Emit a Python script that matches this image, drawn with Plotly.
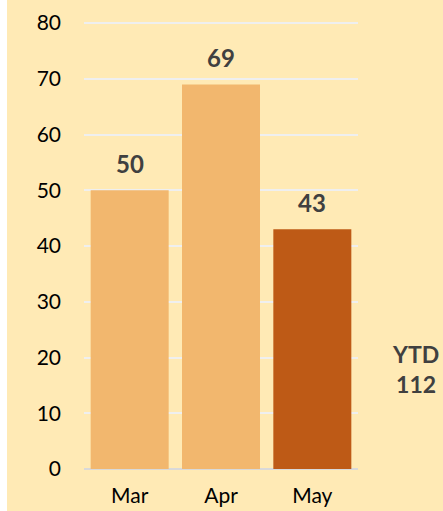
import plotly.graph_objects as go

months = ["Mar", "Apr", "May"]
values = [50, 69, 43]
bar_colors = ["#F2B76E", "#F2B76E", "#BE5A16"]
ytd_label = "YTD"
ytd_value = 112
y_ticks = [0, 10, 20, 30, 40, 50, 60, 70, 80]

W, H = 443, 511
ML, MR, MT, MB = 84, 85, 22, 42
BG = "#FFEAB5"
TXT = "#404040"
FONT = "Lato, Open Sans, sans-serif"

fig = go.Figure()
fig.add_trace(go.Bar(
    x=months, y=values,
    marker=dict(color=bar_colors, line=dict(width=0)),
    hoverinfo="skip",
))

for m, v in zip(months, values):
    fig.add_annotation(
        x=m, y=v, xref="x", yref="y", text=f"<b>{v}</b>",
        showarrow=False, yanchor="middle", yshift=27,
        font=dict(family=FONT, size=24, color=TXT),
    )

pw = W - ML - MR
ph = H - MT - MB
fig.add_annotation(
    x=(415 - ML) / pw, y=(H - MB - 369) / ph, xref="paper", yref="paper",
    text=f"<b>{ytd_label}</b><br><b>{ytd_value}</b>",
    showarrow=False, xanchor="center", yanchor="middle",
    font=dict(family=FONT, size=23, color=TXT),
)

# white strip on left edge
fig.add_shape(
    type="rect", xref="paper", yref="paper",
    x0=-ML / pw, x1=(7 - ML) / pw, y0=-MB / ph - 0.01, y1=(H - MB) / ph + 0.01,
    fillcolor="white", line=dict(width=0), layer="below",
)

fig.update_layout(
    width=W, height=H,
    margin=dict(l=ML, r=MR, t=MT, b=MB, pad=0),
    paper_bgcolor=BG, plot_bgcolor=BG,
    bargap=0.146,
    showlegend=False,
    font=dict(family=FONT, size=18, color="#000000"),
    xaxis=dict(
        showgrid=False, zeroline=False, showline=False,
        ticks="", ticklabelstandoff=12, automargin=False,
        tickfont=dict(family=FONT, size=21, color="#000000"),
        fixedrange=True,
    ),
    yaxis=dict(
        range=[0, 80.2], tickvals=y_ticks,
        showgrid=True, gridcolor="#EFEFEF", gridwidth=1.5,
        zeroline=True, zerolinecolor="#D9D9D9", zerolinewidth=1.5,
        showline=False, ticks="", ticklabelstandoff=22, automargin=False,
        tickfont=dict(family=FONT, size=21, color="#000000"),
        fixedrange=True,
    ),
)

fig.write_html("out.html")
